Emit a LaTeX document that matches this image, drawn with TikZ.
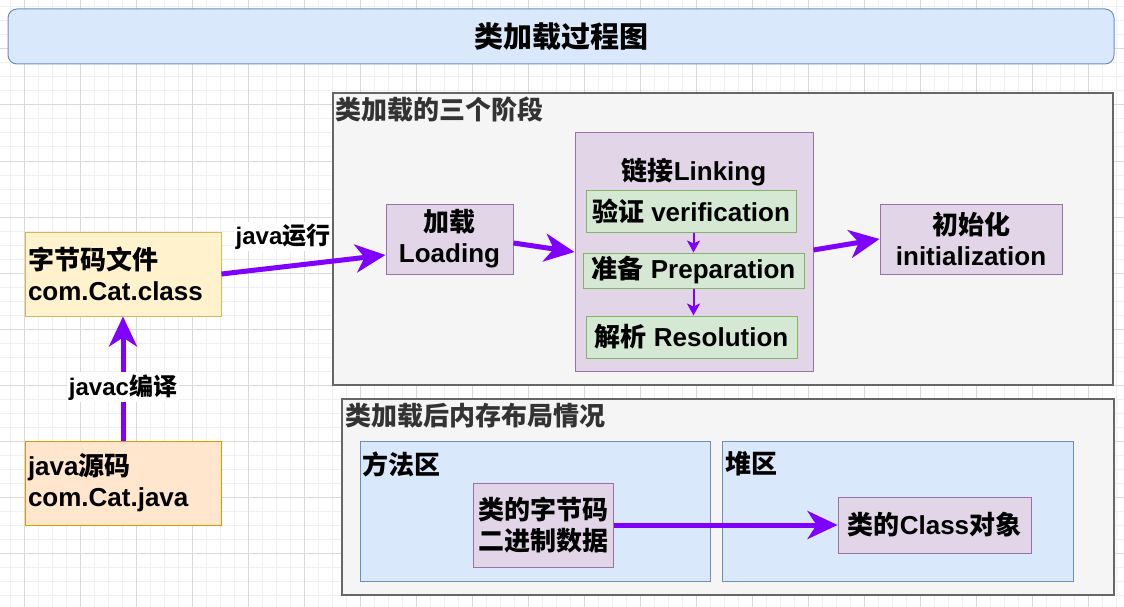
\documentclass[tikz,border=0pt]{standalone}
\usepackage{fontspec}
\setmainfont{Liberation Sans}
\newfontfamily\cjk{Noto Sans CJK SC}
\usetikzlibrary{arrows.meta}
\definecolor{gmajor}{HTML}{D9D9D9}
\definecolor{gminor}{HTML}{F0F0F0}
\definecolor{pfill}{HTML}{E1D5E7}\definecolor{pline}{HTML}{9673A6}
\definecolor{gfill}{HTML}{D5E8D4}\definecolor{gline}{HTML}{82B366}
\definecolor{bfill}{HTML}{DAE8FC}\definecolor{bline}{HTML}{6C8EBF}
\definecolor{yfill}{HTML}{FFF2CC}\definecolor{yline}{HTML}{D6B656}
\definecolor{ofill}{HTML}{FFE6CC}\definecolor{oline}{HTML}{D79B00}
\definecolor{grfill}{HTML}{F5F5F5}\definecolor{grline}{HTML}{666666}
\definecolor{grtext}{HTML}{333333}
\definecolor{arrowc}{HTML}{7F00FF}
\tikzset{
  txt/.style={font=\fontsize{26}{31}\selectfont\bfseries},
  shape box/.style={draw, line width=1pt, inner sep=0pt, txt, align=center},
  purplebox/.style={shape box, fill=pfill, draw=pline},
  greenbox/.style={shape box, fill=gfill, draw=gline},
  bluebox/.style={shape box, fill=bfill, draw=bline},
  yellowbox/.style={shape box, fill=yfill, draw=yline},
  orangebox/.style={shape box, fill=ofill, draw=oline},
  graybox/.style={draw=grline, fill=grfill, line width=1.5pt, inner sep=0pt},
  grouplabel/.style={inner sep=0pt, txt, text=grtext, anchor=west},
  arealabel/.style={inner sep=0pt, txt, anchor=west},
  bigarrow/.style={draw=arrowc, line width=5pt, -{Stealth[length=30pt,width=28pt,inset=9pt]}},
  smallarrow/.style={draw=arrowc, line width=2pt, -{Stealth[length=12pt,width=13pt,inset=3pt]}},
  edgelabel/.style={fill=white, inner sep=2pt, font=\fontsize{24}{28}\selectfont\bfseries},
}
\begin{document}
\begin{tikzpicture}[x=1pt,y=-1pt]
\useasboundingbox (0,0) rectangle (1124,607);
\fill[white] (0,0) rectangle (1124,607);
% grid
\foreach \x in {10,24,...,1124} \draw[gminor, line width=1pt] (\x,0) -- (\x,607);
\foreach \y in {7,21,...,607} \draw[gminor, line width=1pt] (0,\y) -- (1124,\y);
\foreach \x in {24,80,...,1124} \draw[gmajor, line width=1pt] (\x,0) -- (\x,607);
\foreach \y in {49,105,...,607} \draw[gmajor, line width=1pt] (0,\y) -- (1124,\y);

% title
\node[bluebox, rounded corners=9pt, minimum width=1106pt, minimum height=55pt,
      font=\fontsize{29}{34}\selectfont\bfseries] (title) at (561,36.5) {{\cjk 类加载过程图}};

% group 1
\node[graybox, minimum width=780pt, minimum height=292pt] (stages) at (723,239) {};
\node[grouplabel] (stageslbl) at (335,110) {{\cjk 类加载的三个阶段}};

\node[purplebox, minimum width=238pt, minimum height=238pt] (link) at (694,252) {};
\node[txt, inner sep=0pt] (linklbl) at (694,172) {{\cjk 链接}Linking};
\node[greenbox, minimum width=210pt, minimum height=42pt] (verify) at (691,211) {{\cjk 验证} verification};
\node[greenbox, minimum width=221pt, minimum height=35pt] (prep) at (693.5,270.5) {{\cjk 准备} Preparation};
\node[greenbox, minimum width=211pt, minimum height=42pt] (resol) at (691.5,337) {{\cjk 解析} Resolution};

\node[purplebox, minimum width=127pt, minimum height=70pt] (load) at (449.5,239) {{\cjk 加载}\\Loading};
\node[purplebox, minimum width=182pt, minimum height=70pt] (init) at (971,239) {{\cjk 初始化}\\initialization};

% left files
\node[yellowbox, minimum width=196pt, minimum height=84pt, text width=190pt, inner xsep=3pt, align=left] (bytec) at (123,274) {{\cjk 字节码文件}\\com.Cat.class};
\node[orangebox, minimum width=196pt, minimum height=84pt, text width=190pt, inner xsep=3pt, align=left] (src) at (123,483) {java{\cjk 源码}\\com.Cat.java};

% group 2
\node[graybox, minimum width=772pt, minimum height=196pt] (memory) at (728,497) {};
\node[grouplabel] (memorylbl) at (345,416) {{\cjk 类加载后内存布局情况}};

\node[bluebox, minimum width=350pt, minimum height=140pt] (method) at (535,511) {};
\node[arealabel] (methodlbl) at (362,464) {{\cjk 方法区}};
\node[bluebox, minimum width=351pt, minimum height=140pt] (heap) at (897.5,511) {};
\node[arealabel] (heaplbl) at (725,464) {{\cjk 堆区}};

\node[purplebox, minimum width=140pt, minimum height=84pt] (cbytes) at (543,525) {{\cjk 类的字节码}\\{\cjk 二进制数据}};
\node[purplebox, minimum width=193pt, minimum height=56pt] (cobj) at (934.5,525) {{\cjk 类的}Class{\cjk 对象}};

% connectors
\draw[bigarrow] (src) -- node[edgelabel, pos=0.43] (javaclbl) {javac{\cjk 编译}} (bytec);
\draw[bigarrow] (bytec.east) -- node[edgelabel, pos=0.375, above=13pt] (javalbl) {java{\cjk 运行}} ([yshift=-16pt]load.west);
\draw[bigarrow] ([yshift=-4pt]load.east) -- (link.west);
\draw[bigarrow] ([yshift=2pt]link.east) -- (init.west);
\draw[smallarrow] (prep.north |- verify.south) -- (prep.north);
\draw[smallarrow] (prep.south) -- (prep.south |- resol.north);
\draw[bigarrow] (cbytes) -- (cobj);
\end{tikzpicture}
\end{document}
